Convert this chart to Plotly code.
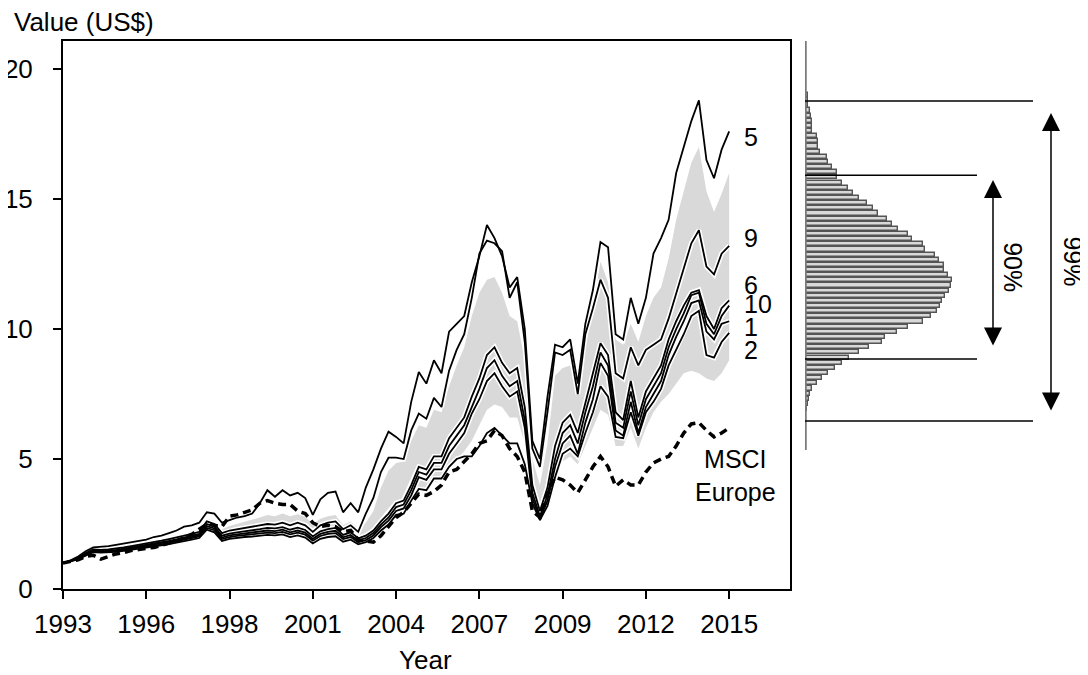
import plotly.graph_objects as go

# ---------------- data ----------------
years = [1993 + 0.25 * i for i in range(89)]  # quarterly time grid 1993..2015

port5 = [1.00,1.10,1.25,1.45,1.60,1.62,1.65,1.70,1.75,1.80,
         1.85,1.90,2.00,2.05,2.15,2.25,2.40,2.45,2.55,2.95,
         2.90,2.55,2.65,2.75,2.80,2.90,3.30,3.80,3.55,3.80,
         3.60,3.70,3.50,2.85,3.45,3.70,3.75,2.95,3.30,2.95,
         3.90,4.60,5.40,6.05,5.85,5.60,7.20,8.35,7.90,8.80,
         8.30,9.90,10.20,10.50,11.80,12.80,14.00,13.50,12.80,11.60,
         12.00,10.00,5.70,5.00,7.40,9.40,9.30,9.60,7.90,10.20,
         11.50,13.35,13.15,9.80,9.60,11.20,10.20,11.20,12.90,13.50,
         14.20,16.00,17.00,18.00,18.80,16.50,15.80,16.90,17.60]
port9 = [1.00,1.08,1.20,1.38,1.52,1.50,1.52,1.55,1.60,1.65,
         1.70,1.74,1.80,1.86,1.92,1.98,2.06,2.12,2.20,2.60,
         2.50,2.15,2.25,2.30,2.35,2.38,2.45,2.50,2.48,2.55,
         2.45,2.55,2.45,2.20,2.45,2.55,2.60,2.30,2.45,2.20,
         2.90,3.50,4.50,5.05,5.05,5.00,6.10,6.75,6.55,7.35,
         7.00,8.40,9.20,9.80,11.20,12.90,13.40,13.30,13.00,11.20,
         11.80,9.50,5.40,4.70,6.80,9.10,9.00,9.20,7.50,9.80,
         10.80,11.90,11.20,8.30,8.10,9.30,8.60,9.20,9.40,9.60,
         10.40,11.40,12.30,13.30,13.80,12.40,12.10,12.90,13.20]
port6 = [1.00,1.08,1.18,1.35,1.48,1.47,1.48,1.50,1.55,1.60,
         1.64,1.68,1.74,1.79,1.85,1.91,1.98,2.04,2.12,2.50,
         2.40,2.05,2.13,2.18,2.22,2.24,2.30,2.35,2.33,2.38,
         2.28,2.36,2.27,2.02,2.22,2.30,2.35,2.08,2.18,1.95,
         2.05,2.25,2.60,2.90,3.30,3.40,4.00,4.70,4.60,5.10,
         5.10,5.80,6.20,6.60,7.40,8.10,9.00,9.30,8.70,8.30,
         8.50,7.00,4.00,3.00,3.90,5.50,6.40,6.70,6.00,7.20,
         8.30,9.45,9.00,6.80,6.50,8.00,6.60,7.60,8.10,8.60,
         9.60,10.30,10.90,11.40,11.50,10.50,10.00,10.80,11.10]
port10 = [1.00,1.07,1.17,1.33,1.46,1.45,1.46,1.48,1.52,1.57,
          1.61,1.65,1.70,1.75,1.81,1.87,1.94,2.00,2.07,2.42,
          2.33,1.98,2.06,2.10,2.14,2.16,2.21,2.25,2.23,2.28,
          2.18,2.25,2.17,1.93,2.12,2.20,2.24,1.99,2.08,1.86,
          1.96,2.15,2.48,2.75,3.15,3.25,3.80,4.50,4.40,4.85,
          4.85,5.50,5.90,6.30,7.00,7.70,8.50,8.80,8.20,7.80,
          8.00,6.50,3.70,2.80,3.60,5.00,6.00,6.30,5.60,6.80,
          7.80,9.10,8.60,6.40,6.20,7.60,6.30,7.30,7.80,8.30,
          9.30,10.00,10.60,11.30,11.40,10.20,9.80,10.50,10.90]
port1 = [1.00,1.07,1.16,1.32,1.44,1.43,1.44,1.46,1.50,1.54,
         1.58,1.62,1.67,1.72,1.77,1.83,1.90,1.95,2.02,2.35,
         2.26,1.92,2.00,2.04,2.07,2.09,2.13,2.17,2.15,2.20,
         2.10,2.17,2.09,1.86,2.04,2.12,2.15,1.92,2.00,1.80,
         1.88,2.06,2.38,2.63,3.00,3.10,3.60,4.30,4.20,4.60,
         4.60,5.20,5.60,6.00,6.75,7.30,8.00,8.30,7.80,7.40,
         7.60,6.20,3.50,2.70,3.40,4.70,5.60,5.90,5.20,6.40,
         7.30,8.70,8.20,6.10,5.90,7.20,6.00,7.00,7.50,8.00,
         9.00,9.70,10.30,11.00,11.10,9.90,9.60,10.20,10.30]
port2 = [1.00,1.06,1.15,1.30,1.42,1.40,1.41,1.43,1.47,1.51,
         1.55,1.58,1.63,1.68,1.73,1.78,1.85,1.90,1.96,2.28,
         2.18,1.85,1.93,1.97,2.00,2.02,2.05,2.08,2.06,2.10,
         2.00,2.06,1.98,1.75,1.93,2.00,2.03,1.82,1.90,1.72,
         1.80,1.96,2.25,2.48,2.85,2.90,3.40,3.85,3.80,4.25,
         4.25,4.70,5.00,5.10,5.10,5.50,6.00,6.20,5.90,5.60,
         5.60,4.80,3.30,2.65,3.20,4.30,5.20,5.40,5.10,6.00,
         6.80,7.80,7.40,5.85,5.80,6.80,5.90,6.80,7.20,7.70,
         8.60,9.20,9.80,10.50,10.70,9.00,8.90,9.50,9.85]
msci_europe = [1.00,1.05,1.12,1.25,1.30,1.15,1.25,1.35,1.40,1.48,
               1.52,1.55,1.60,1.68,1.75,1.85,1.98,2.10,2.30,2.50,
               2.45,2.40,2.80,2.85,2.95,3.05,3.30,3.40,3.30,3.25,
               3.25,3.00,2.90,2.55,2.40,2.45,2.40,2.20,2.25,1.90,
               1.85,1.80,2.05,2.40,2.75,2.95,3.30,3.65,3.60,3.75,
               4.00,4.50,4.60,4.90,5.20,5.60,5.70,6.10,5.90,5.40,
               5.10,4.50,3.00,2.75,3.70,4.30,4.20,4.00,3.70,4.20,
               4.70,5.10,4.70,3.95,4.20,4.00,4.00,4.50,4.85,5.00,
               5.10,5.50,6.00,6.35,6.40,6.10,5.85,6.00,6.20]
band_low = [1.00,1.05,1.13,1.28,1.38,1.37,1.38,1.40,1.45,1.49,
            1.53,1.56,1.61,1.66,1.71,1.76,1.83,1.88,1.95,2.25,
            2.15,1.82,1.90,1.94,1.97,1.99,2.03,2.07,2.05,2.10,
            2.00,2.06,1.98,1.75,1.95,2.02,2.05,1.82,1.90,1.72,
            1.80,1.95,2.25,2.55,2.80,3.00,3.40,3.80,3.75,4.10,
            4.20,4.70,5.00,5.30,5.70,6.30,6.90,7.10,7.00,6.60,
            6.60,5.60,3.40,2.80,3.30,4.40,4.90,5.10,4.80,5.50,
            6.20,6.90,6.70,5.50,5.50,6.20,5.40,6.20,6.80,7.20,
            7.50,7.90,8.30,8.40,8.30,8.10,8.00,8.30,8.80]
band_high = [1.00,1.10,1.22,1.40,1.55,1.55,1.57,1.60,1.65,1.70,
             1.75,1.80,1.87,1.93,2.00,2.07,2.15,2.22,2.32,2.70,
             2.62,2.30,2.42,2.50,2.58,2.65,2.75,2.85,2.80,2.90,
             2.80,2.88,2.78,2.50,2.70,2.80,2.85,2.45,2.60,2.35,
             2.55,3.00,3.90,4.55,4.85,4.90,5.70,6.30,6.20,6.90,
             6.80,7.80,8.60,9.30,10.50,11.40,11.90,12.00,11.40,10.50,
             10.30,8.80,5.00,4.00,5.60,8.20,8.50,8.60,7.60,9.30,
             10.80,12.60,11.80,9.60,9.40,10.20,9.50,10.50,11.20,11.60,
             12.70,14.20,15.30,16.40,17.00,15.30,14.50,15.20,16.00]

series_names = ["5", "9", "6", "10", "1", "2"]
series_values = [port5, port9, port6, port10, port1, port2]
label_y = [17.38, 13.5, 11.69, 10.96, 10.08, 9.19]

x_tick_vals = [1993, 1995.75, 1998.5, 2001.25, 2004, 2006.75, 2009.5, 2012.25, 2015]
x_tick_text = ["1993", "1996", "1998", "2001", "2004", "2007", "2009", "2012", "2015"]
y_tick_vals = [0, 5, 10, 15, 20]

# terminal-value distribution (top bin to bottom bin)
hist_counts = [3.3,3.3,2.7,5,6,6.7,6.7,7.3,11.7,13.3,
               13.3,15,21.7,23.3,27.3,31.7,31.7,36.7,43.3,48.3,
               54,61.7,68.3,73.3,81.7,87.3,93.3,103.3,107.3,118.3,
               120,130,134,139.3,139.3,143.3,147.3,146,144,140,
               136.7,135,131.7,126,117.7,103.3,91.7,80,76.7,64,
               54,44,36.7,30,23.3,17.3,11.7,6.7,5,4,
               2.7,1.7]
hist_top_center = 19.0
hist_bin = 0.198
hist_centers = [hist_top_center - hist_bin * i for i in range(len(hist_counts))]
q90 = [8.85, 15.92]
q99 = [6.46, 18.77]

# ---------------- figure ----------------
FONT = "Liberation Sans, Arial, Helvetica, sans-serif"
FS = 26
YMAX = 21.08
fig = go.Figure()

fig.add_trace(go.Scatter(x=years, y=band_low, mode="lines", line=dict(width=0, color="#d9d9d9"),
                         hoverinfo="skip", showlegend=False))
fig.add_trace(go.Scatter(x=years, y=band_high, mode="lines", line=dict(width=0, color="#d9d9d9"),
                         fill="tonexty", fillcolor="#d9d9d9", hoverinfo="skip", showlegend=False))

for vals in series_values:
    fig.add_trace(go.Scatter(x=years, y=vals, mode="lines",
                             line=dict(color="white", width=5), hoverinfo="skip", showlegend=False))
for name, vals in zip(series_names, series_values):
    fig.add_trace(go.Scatter(x=years, y=vals, mode="lines", name=name,
                             line=dict(color="black", width=1.8), showlegend=False))
fig.add_trace(go.Scatter(x=years, y=msci_europe, mode="lines", name="MSCI Europe",
                         line=dict(color="black", width=3.5, dash="8px,5px"), showlegend=False))

fig.add_trace(go.Bar(x=hist_counts, y=hist_centers, orientation="h", width=hist_bin * 0.8,
                     marker=dict(color="#d9d9d9", line=dict(color="#555555", width=1.4)),
                     xaxis="x2", yaxis="y2", showlegend=False))

ann = []
for name, yy in zip(series_names, label_y):
    ann.append(dict(x=2015.43, y=yy, xref="x", yref="y", text=name, showarrow=False,
                    xanchor="left", yanchor="middle", font=dict(size=25, color="black", family=FONT)))
ann.append(dict(x=2015.2, y=4.38, xref="x", yref="y", text="MSCI<br>Europe", showarrow=False,
                xanchor="center", yanchor="middle", align="center",
                font=dict(size=25, color="black", family=FONT)))
ann.append(dict(x=-0.0498, y=1.0347, xref="paper", yref="paper", text="Value (US$)", showarrow=False,
                xanchor="left", yanchor="middle", font=dict(size=FS, color="black", family=FONT)))
ann.append(dict(x=0.3541, y=-0.1296, xref="paper", yref="paper", text="Year", showarrow=False,
                xanchor="center", yanchor="middle", font=dict(size=FS, color="black", family=FONT)))
# double arrows
for xx, (ylo, yhi) in [(188, (9.31, 15.73)), (246, (6.81, 18.31))]:
    ann.append(dict(x=xx, y=yhi, ax=xx, ay=ylo, xref="x2", yref="y2", axref="x2", ayref="y2",
                    text="", showarrow=True, arrowhead=2, startarrowhead=2, arrowside="end+start",
                    arrowsize=2.4, startarrowsize=2.4, arrowwidth=1.5, arrowcolor="black", standoff=0,
                    startstandoff=0))
ann.append(dict(x=208, y=12.38, xref="x2", yref="y2", text="90%", textangle=90, showarrow=False,
                font=dict(size=25, color="black", family=FONT)))
ann.append(dict(x=268, y=12.6, xref="x2", yref="y2", text="99%", textangle=90, showarrow=False,
                font=dict(size=25, color="black", family=FONT)))

shapes = [dict(type="line", xref="x2", yref="y2", x0=0, x1=0, y0=5.35, y1=YMAX,
               line=dict(color="#7a7a7a", width=3.5))]
for yy in q99:
    shapes.append(dict(type="line", xref="x2", yref="y2", x0=0, x1=228, y0=yy, y1=yy,
                       line=dict(color="black", width=1.5)))
for yy in q90:
    shapes.append(dict(type="line", xref="x2", yref="y2", x0=0, x1=172, y0=yy, y1=yy,
                       line=dict(color="black", width=1.5)))

axis_common = dict(showline=True, linecolor="black", linewidth=2, mirror=True, ticks="outside",
                   ticklen=8, tickwidth=2, tickcolor="black", showgrid=False, zeroline=False,
                   automargin=False, tickfont=dict(size=FS, color="black", family=FONT))

# page body has an 8px default margin, so the figure is 8px smaller and margins reduced accordingly
fig.update_layout(
    width=1080, height=667,
    margin=dict(l=55, r=0, t=33, b=86, autoexpand=False),
    paper_bgcolor="white", plot_bgcolor="white",
    font=dict(family=FONT, size=FS, color="black"),
    showlegend=False,
    bargap=0,
    xaxis=dict(domain=[0, 0.7093], range=[1993, 2017.01], tickvals=x_tick_vals, ticktext=x_tick_text,
               ticklabelstandoff=3, **axis_common),
    yaxis=dict(domain=[0, 1], range=[0, YMAX], tickvals=y_tick_vals, ticklabelstandoff=15, **axis_common),
    xaxis2=dict(domain=[0.7239, 1], range=[0, 283], visible=False, anchor="y2"),
    yaxis2=dict(domain=[0, 1], range=[0, YMAX], visible=False, anchor="x2"),
    annotations=ann,
    shapes=shapes,
)

fig.write_html("out.html")
